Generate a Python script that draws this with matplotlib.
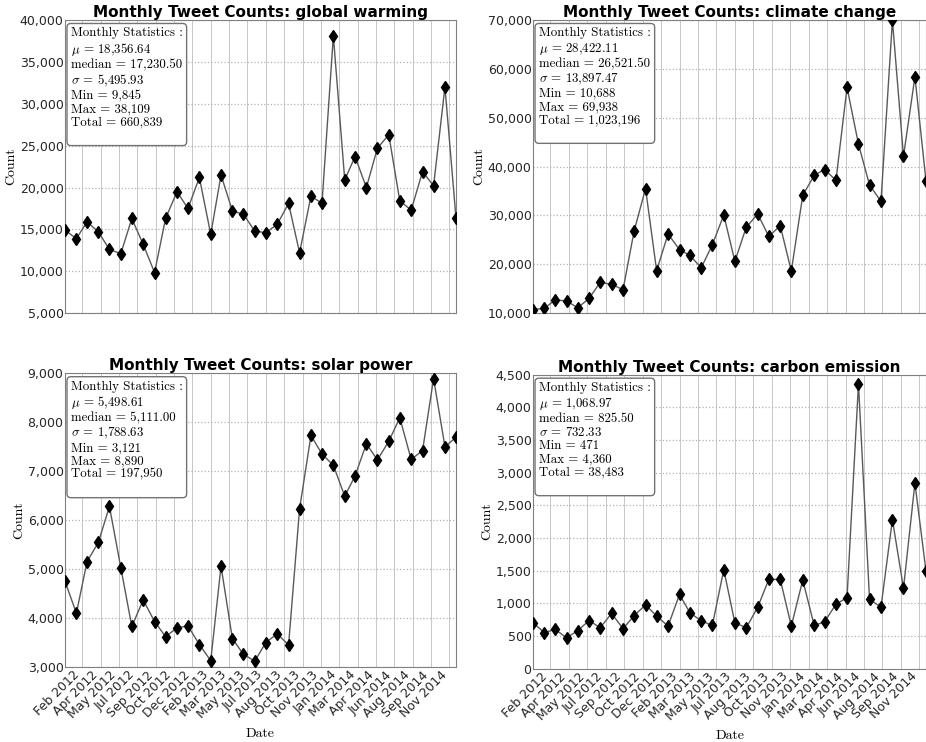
import matplotlib

matplotlib.use("Agg")
import matplotlib.dates as mdates
import matplotlib.pyplot as plt
import numpy as np
import pandas as pd

plt.rcParams.update({"font.family": "DejaVu Sans", "mathtext.fontset": "cm",
                     "font.size": 9})

# monthly counts, Jan 2012 .. Dec 2014
months = pd.date_range("2012-01-01", periods=36, freq="MS")

global_warming = [14900, 13900, 15900, 14700, 12600, 12100, 16300, 13200, 9845,
                  16300, 19500, 17500, 21200, 14400, 21500, 17200, 16800, 14800,
                  14600, 15600, 18100, 12200, 19000, 18100, 38109, 20900, 23700,
                  20000, 24700, 26300, 18400, 17300, 21900, 20200, 32000, 16400]
climate_change = [10700, 11000, 12700, 12500, 11100, 13000, 16300, 15900, 14800,
                  26800, 35500, 18700, 26200, 23000, 21800, 19300, 24000, 30100,
                  20600, 27600, 30300, 25700, 27900, 18600, 34100, 38200, 39400,
                  37200, 56200, 44600, 36200, 32900, 69938, 42100, 58400, 37000]
solar_power = [4750, 4100, 5150, 5550, 6280, 5030, 3830, 4370, 3930, 3620, 3800,
               3840, 3460, 3130, 5060, 3580, 3260, 3121, 3500, 3680, 3450, 6230,
               7730, 7350, 7120, 6490, 6900, 7560, 7230, 7610, 8090, 7240, 7420,
               8890, 7500, 7690]
carbon_emission = [700, 550, 600, 471, 580, 735, 625, 845, 610, 810, 975, 805, 650,
                   1135, 855, 730, 660, 1515, 700, 625, 940, 1365, 1365, 650, 1355,
                   660, 715, 985, 1085, 4360, 1060, 940, 2280, 1230, 2840, 1490]

# printed statistics: mean, median, std, min, max, total
stats_gw = [18356.64, 17230.50, 5495.93, 9845, 38109, 660839]
stats_cc = [28422.11, 26521.50, 13897.47, 10688, 69938, 1023196]
stats_sp = [5498.61, 5111.00, 1788.63, 3121, 8890, 197950]
stats_ce = [1068.97, 825.50, 732.33, 471, 4360, 38483]

terms = ["global warming", "climate change", "solar power", "carbon emission"]
ylims = [(5000, 40000), (10000, 70000), (3000, 9000), (0, 4500)]
ysteps = [5000, 10000, 1000, 500]

tick_dates = pd.date_range("2012-02-17", "2014-12-01", freq="50D")


def stats_text(s):
    mu, med, sd, mn, mx, tot = s
    lines = ["Monthly Statistics :",
             rf"$\mu$ = {mu:,.2f}",
             f"median = {med:,.2f}",
             rf"$\sigma$ = {sd:,.2f}",
             f"Min = {mn:,.0f}",
             f"Max = {mx:,.0f}",
             f"Total = {tot:,.0f}",
             " "]
    return "\n".join(lines)


fig = plt.figure(figsize=(9.26, 7.42), dpi=100)
rects = [(0.0702, 0.578, 0.4222, 0.395), (0.5756, 0.578, 0.4244, 0.395),
         (0.0702, 0.101, 0.4222, 0.396), (0.5756, 0.099, 0.4244, 0.396)]
series = [global_warming, climate_change, solar_power, carbon_emission]
stats = [stats_gw, stats_cc, stats_sp, stats_ce]

for i, (rect, y, term, st) in enumerate(zip(rects, series, terms, stats)):
    ax = fig.add_axes(rect)
    ax.plot(months, y, color="0.35", lw=1.0, marker="d", ms=6,
            mfc="black", mec="black", zorder=3)
    ax.set_xlim(months[0], months[-1])
    lo, hi = ylims[i]
    ax.set_ylim(lo, hi)
    ax.set_yticks(np.arange(lo, hi + 1, ysteps[i]))
    ax.yaxis.set_major_formatter(matplotlib.ticker.StrMethodFormatter("{x:,.0f}"))
    ax.set_xticks(tick_dates)
    ax.xaxis.set_major_formatter(mdates.DateFormatter("%b %Y"))
    ax.grid(axis="x", color="0.78", ls="-", lw=0.7)
    ax.grid(axis="y", color="0.7", ls=":", lw=0.9)
    ax.tick_params(length=0, pad=1, labelsize=9, colors="0.15")
    for sp in ax.spines.values():
        sp.set_color("0.5")
    ax.set_title(f"Monthly Tweet Counts: {term}", fontsize=11,
                 fontweight="bold", pad=2)
    ax.set_ylabel("Count", family="cmr10", fontsize=10, labelpad=2)
    if i < 2:
        ax.tick_params(labelbottom=False)
    else:
        plt.setp(ax.get_xticklabels(), rotation=45, ha="right")
        ax.set_xlabel("Date", family="cmr10", fontsize=10, labelpad=5)
    ax.text(0.015, 0.975, stats_text(st), transform=ax.transAxes, va="top",
            ha="left", family="cmr10", fontsize=9.3, linespacing=1.12, zorder=5,
            bbox=dict(boxstyle="round,pad=0.3,rounding_size=0.3",
                      fc="white", ec="0.45", lw=1))

fig.savefig("out.png", dpi=100)
